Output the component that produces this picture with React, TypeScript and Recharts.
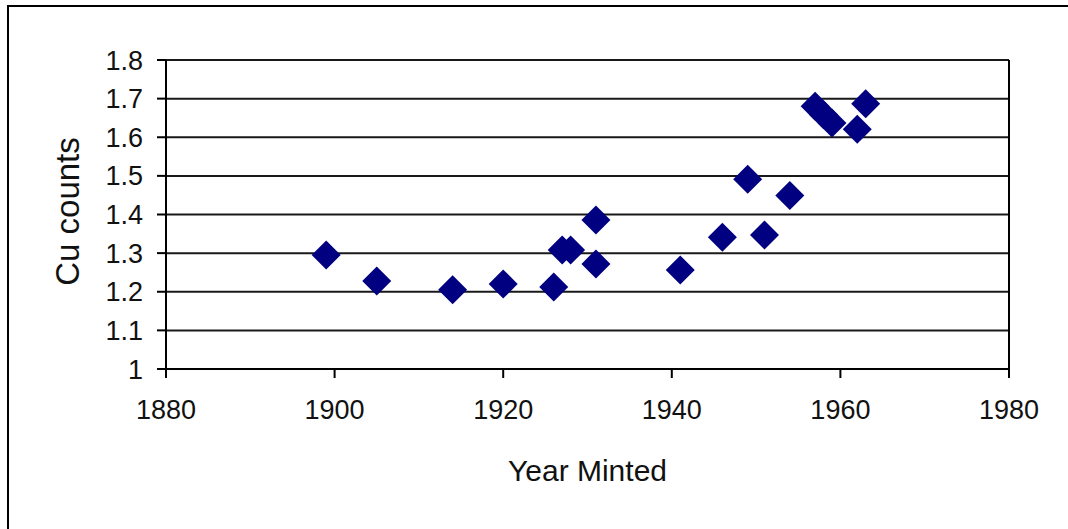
import React from 'react';
import { ScatterChart, Scatter, XAxis, YAxis, CartesianGrid, ReferenceLine } from 'recharts';

const years = [1899, 1905, 1914, 1920, 1926, 1927, 1928, 1931, 1931, 1941, 1946, 1949, 1951, 1954, 1957, 1958, 1959, 1962, 1963];
const cuCounts = [1.295, 1.228, 1.205, 1.22, 1.212, 1.308, 1.308, 1.386, 1.272, 1.256, 1.341, 1.491, 1.347, 1.449, 1.68, 1.658, 1.637, 1.621, 1.687];
const xTicks = [1880, 1900, 1920, 1940, 1960, 1980];
const yTicks = [1, 1.1, 1.2, 1.3, 1.4, 1.5, 1.6, 1.7, 1.8];

const data = years.map((y, i) => ({ year: y, cu: cuCounts[i] }));

const FONT = '"Liberation Sans", Arial, sans-serif';

const Diamond = (props: any) => {
  const { cx, cy } = props;
  if (cx == null || cy == null) return null;
  const r = 14.5;
  return (
    <polygon
      points={`${cx},${cy - r} ${cx + r},${cy} ${cx},${cy + r} ${cx - r},${cy}`}
      fill="#000080"
    />
  );
};

const YLabel = (props: any) => {
  const vb = props.viewBox || {};
  const x = vb.x - 19;
  const y = vb.y + vb.height / 2 - 3;
  return (
    <text
      x={x}
      y={y}
      transform={`rotate(-90, ${x}, ${y})`}
      textAnchor="middle"
      dominantBaseline="central"
      fontFamily={FONT}
      fontSize={33}
      fill="#111"
    >
      Cu counts
    </text>
  );
};

const XLabel = (props: any) => {
  const vb = props.viewBox || {};
  const x = vb.x + vb.width / 2;
  const y = vb.y + 112;
  return (
    <text x={x} y={y} textAnchor="middle" fontFamily={FONT} fontSize={30} fill="#111">
      Year Minted
    </text>
  );
};

export default function App() {
  return (
    <div style={{ position: 'absolute', left: 0, top: 0, width: 1068, height: 529, overflow: 'hidden', background: '#fff' }}>
      <div
        style={{
          position: 'absolute',
          left: 7,
          top: 5,
          width: 1100,
          height: 600,
          border: '2px solid #000',
          boxSizing: 'border-box',
        }}
      />
      <div style={{ position: 'absolute', left: 0, top: 0 }}>
        <ScatterChart width={1068} height={529} margin={{ top: 60, right: 59, bottom: 35, left: 86 }}>
          <CartesianGrid horizontal vertical={false} stroke="#000" strokeWidth={2} strokeOpacity={0.9} />
          <XAxis
            type="number"
            dataKey="year"
            domain={[1880, 1980]}
            ticks={xTicks}
            height={125}
            tickSize={9}
            tickMargin={22}
            axisLine={{ stroke: '#000', strokeWidth: 2 }}
            tickLine={{ stroke: '#000', strokeWidth: 2 }}
            tick={{ fill: '#111', fontSize: 27, fontFamily: FONT }}
            label={<XLabel />}
          />
          <YAxis
            type="number"
            dataKey="cu"
            domain={[1, 1.8]}
            ticks={yTicks}
            width={80}
            tickSize={9}
            tickMargin={14}
            axisLine={{ stroke: '#000', strokeWidth: 2 }}
            tickLine={{ stroke: '#000', strokeWidth: 2 }}
            tick={{ fill: '#111', fontSize: 27, fontFamily: FONT }}
            label={<YLabel />}
          />
          <ReferenceLine x={1980} stroke="#000" strokeWidth={2} />
          <Scatter data={data} shape={<Diamond />} isAnimationActive={false} />
        </ScatterChart>
      </div>
    </div>
  );
}
